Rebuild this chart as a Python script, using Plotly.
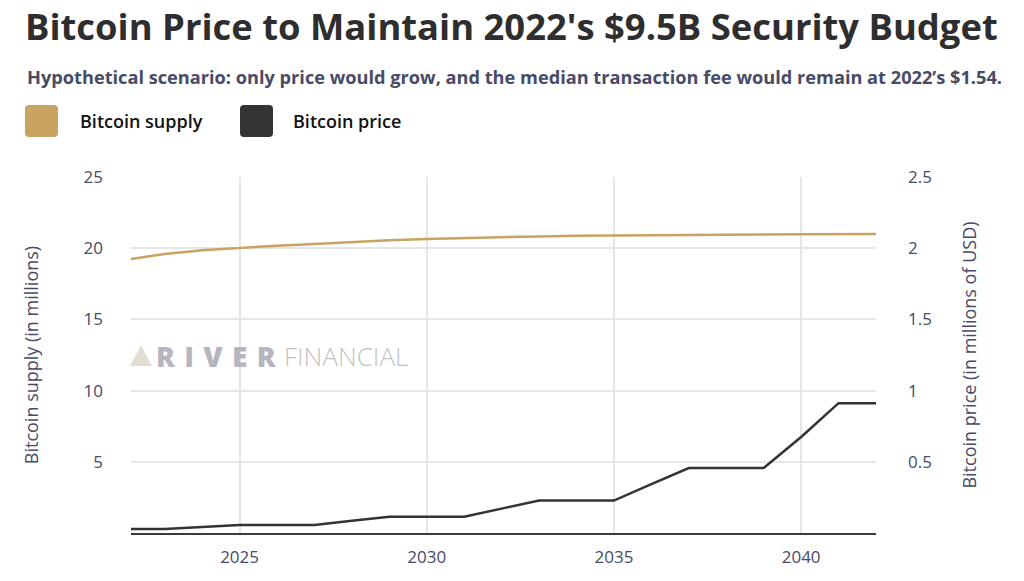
import plotly.graph_objects as go

years = list(range(2022, 2043))
supply_millions = [19.2, 19.6, 19.85, 20.02, 20.18, 20.3, 20.45, 20.55, 20.65, 20.72,
                   20.78, 20.83, 20.87, 20.9, 20.93, 20.95, 20.96, 20.97, 20.98, 20.99, 21.0]
price_millions_usd = [0.0285, 0.0285, 0.043, 0.057, 0.057, 0.057, 0.086, 0.114, 0.114, 0.114,
                      0.171, 0.228, 0.228, 0.228, 0.343, 0.456, 0.456, 0.456, 0.674, 0.912, 0.912]
x_ticks = [2025, 2030, 2035, 2040]
left_ticks = [5, 10, 15, 20, 25]
right_ticks = [0.5, 1, 1.5, 2, 2.5]
right_tick_text = ["0.5", "1", "1.5", "2", "2.5"]

W, H = 1024, 581
L, R, T, B = 131, 876, 177, 533

def px(x):
    return (x - L) / (R - L)

def py(y):
    return (B - y) / (B - T)

GOLD = "#c9a362"
DARK = "#333333"
SLATE = "#474b66"
FONT = "Open Sans"

fig = go.Figure()
fig.add_trace(go.Scatter(x=years, y=supply_millions, mode="lines", name="Bitcoin supply",
                         line=dict(color=GOLD, width=2.5), showlegend=False, yaxis="y"))
fig.add_trace(go.Scatter(x=years, y=price_millions_usd, mode="lines", name="Bitcoin price",
                         line=dict(color=DARK, width=2.5), showlegend=False, yaxis="y2"))

def rounded_rect(x0, y0, x1, y1, r):
    def P(x, y):
        return f"{px(x):.5f},{py(y):.5f}"
    return (f"M {P(x0 + r, y0)} L {P(x1 - r, y0)} Q {P(x1, y0)} {P(x1, y0 + r)} "
            f"L {P(x1, y1 - r)} Q {P(x1, y1)} {P(x1 - r, y1)} L {P(x0 + r, y1)} "
            f"Q {P(x0, y1)} {P(x0, y1 - r)} L {P(x0, y0 + r)} Q {P(x0, y0)} {P(x0 + r, y0)} Z")

shapes = [
    dict(type="path", xref="paper", yref="paper", path=rounded_rect(25, 105, 58, 137, 4),
         fillcolor=GOLD, line=dict(width=0), layer="above"),
    dict(type="path", xref="paper", yref="paper", path=rounded_rect(240, 105, 273, 137, 4),
         fillcolor=DARK, line=dict(width=0), layer="above"),
    # watermark logo triangle
    dict(type="path", xref="paper", yref="paper",
         path=f"M {px(130):.5f},{py(366):.5f} L {px(141):.5f},{py(345):.5f} L {px(152):.5f},{py(366):.5f} Z",
         fillcolor="rgba(215,208,192,0.7)", line=dict(width=0), layer="below"),
]

annotations = [
    dict(text="<b>Bitcoin Price to Maintain 2022's $9.5B Security Budget</b>", x=px(23), y=py(-1),
         xref="paper", yref="paper", xanchor="left", yanchor="top", showarrow=False,
         font=dict(family=FONT, size=36.4, color="#2e2e2e")),
    dict(text="<b>Hypothetical scenario: only price would grow, and the median transaction fee would remain at 2022\u2019s $1.54.</b>",
         x=px(25), y=py(77), xref="paper", yref="paper", xanchor="left", yanchor="middle", showarrow=False,
         font=dict(family=FONT, size=18.2, color=SLATE)),
    dict(text="Bitcoin supply", x=px(78), y=py(121), xref="paper", yref="paper",
         xanchor="left", yanchor="middle", showarrow=False,
         font=dict(family=FONT, size=18, weight=600, color="#111111")),
    dict(text="Bitcoin price", x=px(291), y=py(121), xref="paper", yref="paper",
         xanchor="left", yanchor="middle", showarrow=False,
         font=dict(family=FONT, size=18, weight=600, color="#111111")),
    dict(text="R\u2004I\u2004V\u2004E\u2004R", x=px(154), y=py(356), xref="paper", yref="paper",
         xanchor="left", yanchor="middle", showarrow=False,
         font=dict(family=FONT, size=28, weight=800, color="rgba(168,169,178,0.85)")),
    dict(text="FINANCIAL", x=px(282), y=py(356), xref="paper", yref="paper",
         xanchor="left", yanchor="middle", showarrow=False,
         font=dict(family=FONT, size=26, weight=300, color="rgba(180,180,186,0.85)")),
]

fig.update_layout(
    width=W, height=H,
    margin=dict(l=L, r=W - R, t=T, b=H - B, pad=0),
    paper_bgcolor="white", plot_bgcolor="white",
    font=dict(family=FONT, color=SLATE),
    showlegend=False,
    xaxis=dict(range=[2022.1, 2042], tickvals=x_ticks, showgrid=True, gridcolor="#e6e6e6", gridwidth=1.5,
               zeroline=False, showline=True, linecolor="#3a3a3a", linewidth=2, ticks="", automargin=False,
               tickfont=dict(family=FONT, size=17, weight=500, color=SLATE), ticklabelstandoff=8),
    yaxis=dict(range=[0, 25], tickvals=left_ticks, showgrid=True, gridcolor="#e6e6e6", gridwidth=1.5,
               zeroline=False, showline=False, ticks="", automargin=False,
               tickfont=dict(family=FONT, size=17, weight=500, color=SLATE), ticklabelstandoff=27,
               title=dict(text="Bitcoin supply (in millions)", font=dict(family=FONT, size=18, weight=500, color=SLATE), standoff=40)),
    yaxis2=dict(range=[0, 2.5], tickvals=right_ticks, ticktext=right_tick_text, overlaying="y", side="right",
                showgrid=False, zeroline=False, showline=False, ticks="", automargin=False,
                tickfont=dict(family=FONT, size=17, weight=500, color=SLATE), ticklabelstandoff=31,
                title=dict(text="Bitcoin price (in millions of USD)", font=dict(family=FONT, size=18, weight=500, color=SLATE), standoff=32)),
    shapes=shapes,
    annotations=annotations,
)

fig.write_html("out.html")
